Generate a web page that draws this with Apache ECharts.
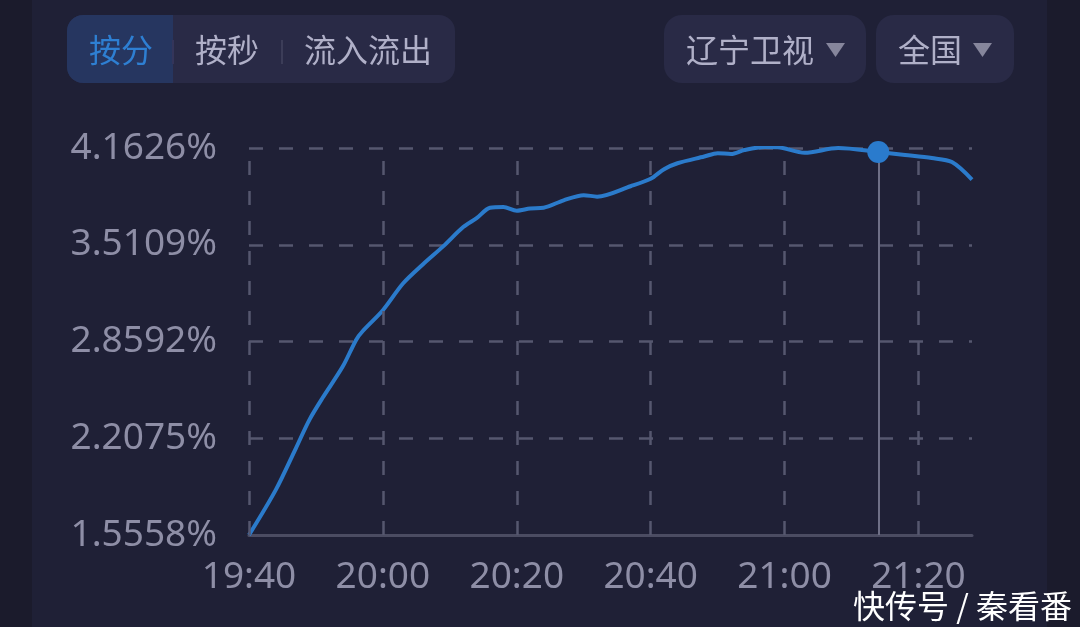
<!DOCTYPE html>
<html>
<head>
<meta charset="utf-8">
<script src="https://cdn.jsdelivr.net/npm/echarts@6/dist/echarts.min.js"></script>
<style>
html,body{margin:0;padding:0;background:#1f2036;}
#c{width:1080px;height:627px;}
</style>
</head>
<body>
<div id="c"></div>
<script>
// ---- data ----
const startTime = '19:40';
const endTime = '21:28';
const times = ['19:40','19:44','19:47','19:49','19:51','19:54','19:56','19:57','20:00','20:03','20:06','20:09','20:12','20:14','20:16','20:18','20:20','20:22','20:24','20:27','20:30','20:32','20:37','20:40','20:42','20:44','20:48','20:50','20:52','20:54','20:57','20:59','21:03','21:08','21:14','21:18','21:22','21:25','21:28'];
const ratings = [1.556,1.86,2.14,2.33,2.48,2.69,2.87,2.93,3.07,3.25,3.38,3.50,3.63,3.69,3.76,3.765,3.74,3.755,3.76,3.81,3.845,3.835,3.905,3.955,4.02,4.06,4.105,4.128,4.122,4.149,4.170,4.168,4.13,4.162,4.136,4.116,4.095,4.068,3.95];
const xTickLabels = ['19:40','20:00','20:20','20:40','21:00','21:20'];
const yTickLabels = ['1.5558%','2.2075%','2.8592%','3.5109%','4.1626%'];
const highlightTime = '21:14';
const highlightValue = 4.136;

// ---- helpers ----
function toMin(t){const p=t.split(':');return (+p[0])*60+(+p[1]);}
const t0 = toMin(startTime);
function off(t){return toMin(t)-t0;}
const xMax = off(endTime);
const xTickVals = xTickLabels.map(off);
const xStep = xTickVals[1]-xTickVals[0];
const yTickVals = yTickLabels.map(s=>parseFloat(s));
const yMin = yTickVals[0], yMax = yTickVals[yTickVals.length-1];
const yStep = (yMax-yMin)/(yTickVals.length-1);
const lineData = times.map((t,i)=>[off(t),ratings[i]]);

const gridColor = '#56576f';
const labelColor = '#8e8ea6';
const cjk = '"Noto Sans CJK SC", "Noto Sans", sans-serif';
const num = '"Noto Sans", Roboto, sans-serif';

const chart = echarts.init(document.getElementById('c'));
chart.setOption({
  backgroundColor: '#1f2036',
  animation: false,
  grid: {left: 249, right: 108, top: 148, bottom: 92},
  xAxis: {
    type: 'value', min: 0, max: xMax, interval: xStep,
    axisLine: {show: true, lineStyle: {color: '#4b4c62', width: 3}},
    axisTick: {show: false},
    splitLine: {show: false},
    axisLabel: {
      color: labelColor, fontSize: 37, fontFamily: num, margin: 24,
      showMaxLabel: false,
      formatter: v => { const i = xTickVals.indexOf(v); return i >= 0 ? xTickLabels[i] : ''; }
    }
  },
  yAxis: {
    type: 'value', min: yMin, max: yMax, interval: yStep,
    axisLine: {show: false}, axisTick: {show: false},
    splitLine: {show: true, lineStyle: {color: gridColor, width: 2.5, type: [14, 16]}},
    axisLabel: {
      color: labelColor, fontSize: 37, fontFamily: num, margin: 32,
      formatter: v => { const i = Math.round((v - yMin) / yStep); return yTickLabels[i] || ''; }
    }
  },
  series: [
    {
      type: 'line', data: lineData, smooth: 0.3, showSymbol: false,
      lineStyle: {color: '#2b7bcb', width: 4},
      z: 3,
      markLine: {
        silent: true, symbol: 'none', label: {show: false},
        lineStyle: {color: gridColor, width: 2.5, type: [14, 16]},
        data: xTickVals.map(v => [{coord: [v, yMin]}, {coord: [v, yMax]}])
      }
    },
    {
      type: 'scatter', data: [[off(highlightTime), highlightValue]],
      symbolSize: 22, itemStyle: {color: '#2a7bcd', opacity: 1}, z: 5,
      markLine: {
        silent: true, symbol: 'none', label: {show: false},
        lineStyle: {color: '#6e6f86', width: 2, type: 'solid'},
        data: [[{coord: [off(highlightTime), highlightValue]}, {coord: [off(highlightTime), yMin]}]]
      }
    }
  ],
  graphic: [
    {type: 'rect', shape: {x: 0, y: 0, width: 32, height: 627}, style: {fill: '#1b1b2c'}, z: -1},
    {type: 'rect', shape: {x: 1047, y: 0, width: 33, height: 627}, style: {fill: '#1b1b2c'}, z: -1},
    {type: 'rect', shape: {x: 67, y: 15, width: 388, height: 68, r: 16}, style: {fill: '#292a46'}},
    {type: 'rect', shape: {x: 67, y: 15, width: 106, height: 68, r: [16, 0, 0, 16]}, style: {fill: '#263660'}, z: 101},
    {type: 'text', x: 121, y: 50, z: 102, style: {text: '按分', fill: '#2e7fd2', font: '32px ' + cjk, align: 'center', verticalAlign: 'middle'}},
    {type: 'rect', shape: {x: 172, y: 40, width: 2, height: 24}, style: {fill: '#34355a'}, z: 103},
    {type: 'rect', shape: {x: 281, y: 40, width: 2, height: 24}, style: {fill: '#3c3d58'}, z: 102},
    {type: 'text', x: 227, y: 50, z: 102, style: {text: '按秒', fill: '#b0b0c8', font: '32px ' + cjk, align: 'center', verticalAlign: 'middle'}},
    {type: 'text', x: 368, y: 50, z: 102, style: {text: '流入流出', fill: '#b0b0c8', font: '32px ' + cjk, align: 'center', verticalAlign: 'middle'}},
    {type: 'rect', shape: {x: 664, y: 15, width: 202, height: 68, r: 18}, style: {fill: '#292a46'}},
    {type: 'text', x: 750, y: 50, z: 102, style: {text: '辽宁卫视', fill: '#b0b0c8', font: '32px ' + cjk, align: 'center', verticalAlign: 'middle'}},
    {type: 'polygon', z: 102, shape: {points: [[826, 43], [845, 43], [835.5, 57]]}, style: {fill: '#86869c'}},
    {type: 'rect', shape: {x: 876, y: 15, width: 138, height: 68, r: 18}, style: {fill: '#292a46'}},
    {type: 'text', x: 930, y: 50, z: 102, style: {text: '全国', fill: '#b0b0c8', font: '32px ' + cjk, align: 'center', verticalAlign: 'middle'}},
    {type: 'polygon', z: 102, shape: {points: [[973, 43], [992, 43], [982.5, 57]]}, style: {fill: '#86869c'}},
    {type: 'text', x: 1072, y: 606, z: 102, style: {text: '快传号 / 秦看番', fill: '#ffffff', font: '32px ' + cjk, align: 'right', verticalAlign: 'middle'}}
  ]
});
</script>
</body>
</html>
